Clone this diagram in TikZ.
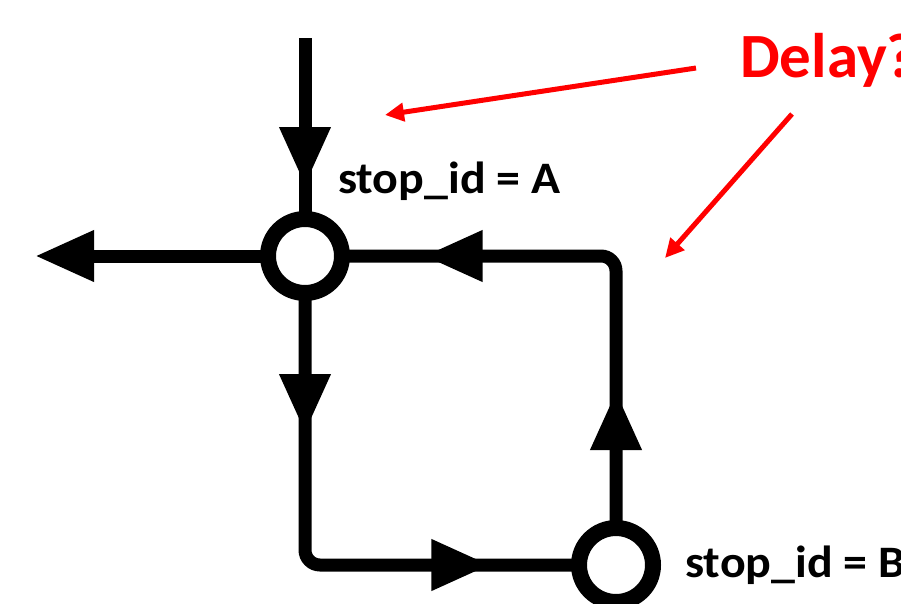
\documentclass[tikz,border=0pt]{standalone}
\usepackage{fontspec}
\setmainfont{Carlito}
\usetikzlibrary{arrows.meta,decorations.markings}
\newcommand{\widen}[2]{\scalebox{#1}[1]{#2}}
\tikzset{
  x=1pt,y=-1pt,
  track/.style={line width=13pt,rounded corners=15pt},
  bigtip/.tip={Triangle[length=59pt,width=48pt]},
  stopnode/.style={circle,draw,line width=16pt,fill=white,minimum size=74pt,inner sep=0pt,outer sep=0pt},
  label/.style={font=\bfseries\fontsize{45}{50}\selectfont,anchor=base west,inner sep=0pt},
  delay/.style={font=\bfseries\fontsize{63}{70}\selectfont,anchor=base west,inner sep=0pt,text=red},
  redarrow/.style={draw=red,line width=5pt,-{Triangle[length=19pt,width=18pt]}},
  markat/.style={postaction={decorate,decoration={markings,mark=at position #1 with {\arrow{bigtip}}}}}
}
\begin{document}
\begin{tikzpicture}
\useasboundingbox (0,0) rectangle (901,603);
\node[stopnode] (A) at (305,256) {};
\node[stopnode] (B) at (616,565) {};
\coordinate (top) at (305,38);
\coordinate (left) at (35,256);
\coordinate (cBL) at (305,565);
\coordinate (cTR) at (616,256);
% tracks
\draw[track,markat=148pt] (top) -- (A.north);
\draw[line width=13pt,-{bigtip}] (A.west) -- (left);
\draw[track,markat=140pt,markat=451pt] (A.south) -- (cBL) -- (B.west);
\draw[track,markat=137pt,markat=458pt] (B.north) -- (cTR) -- (A.east);
% labels
\node[label] (la) at (338,193) {\widen{1.065}{stop\_id = A}};
\node[label] (lb) at (685,577) {\widen{1.065}{stop\_id = B}};
\node[delay] (d) at (740,77) {Delay?};
% red arrows
\coordinate (r1s) at (696,68);
\coordinate (r1e) at (385,115);
\coordinate (r2s) at (792,114);
\coordinate (r2e) at (665,258);
\draw[redarrow] (r1s) -- (r1e);
\draw[redarrow] (r2s) -- (r2e);
\end{tikzpicture}
\end{document}
